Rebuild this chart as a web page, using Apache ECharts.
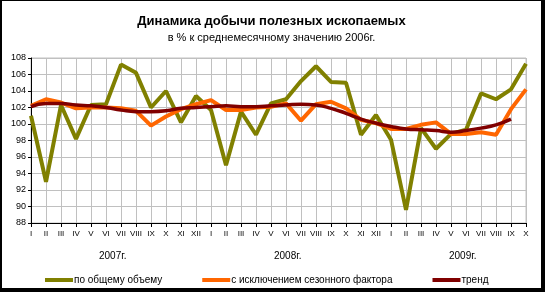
<!DOCTYPE html>
<html>
<head>
<meta charset="utf-8">
<script src="https://cdn.jsdelivr.net/npm/echarts@6/dist/echarts.min.js"></script>
<style>
html,body{margin:0;padding:0;background:#000;}
#frame{position:absolute;left:0;top:0;width:545px;height:292px;background:#000;}
#chart{position:absolute;left:2px;top:1px;width:539px;height:287px;background:#fff;}
</style>
</head>
<body>
<div id="frame"><div id="chart"></div></div>
<script>
// месяцы 2007 I..XII, 2008 I..XII, 2009 I..X
var months = ['I','II','III','IV','V','VI','VII','VIII','IX','X','XI','XII',
	'I','II','III','IV','V','VI','VII','VIII','IX','X','XI','XII',
	'I','II','III','IV','V','VI','VII','VIII','IX','X'];
var years = ['2007г.','2008г.','2009г.'];
var yTicks = [88,108,2];

var totalVol = [101.0,93.0,102.3,98.2,102.3,102.4,107.2,106.2,102.0,104.0,100.2,103.4,
	101.7,95.0,101.5,98.7,102.5,103.0,105.2,107.0,105.1,105.0,98.7,101.1,
	98.1,89.6,99.5,97.0,98.8,99.3,103.7,103.0,104.2,107.3];
var seasonAdj = [102.2,103.0,102.6,101.9,102.0,102.0,101.9,101.6,99.8,100.9,101.8,102.4,
	102.9,101.7,101.7,102.0,102.1,102.5,100.4,102.4,102.7,101.9,100.5,100.1,
	99.4,99.4,99.9,100.2,98.8,98.8,99.0,98.7,101.8,104.2];
var trend = [102.1,102.5,102.5,102.3,102.2,102.0,101.7,101.5,101.5,101.6,101.9,102.0,
	102.1,102.2,102.1,102.1,102.2,102.3,102.4,102.3,101.9,101.3,100.6,100.1,
	99.7,99.4,99.3,99.2,99.0,99.2,99.5,99.9,100.6,null];

var chart = echarts.init(document.getElementById('chart'));
var ff = '"Liberation Sans", Arial, sans-serif';
var option = {
	animation:false,
	backgroundColor:'#fff',
	title:{
		text:'Динамика добычи полезных ископаемых',
		subtext:'в % к среднемесячному значению 2006г.',
		left:'center',
		top:9,
		itemGap:4,
		textStyle:{fontFamily:ff,fontSize:13,fontWeight:'bold',color:'#000'},
		subtextStyle:{fontFamily:ff,fontSize:11,color:'#000'}
	},
	grid:{left:29,right:15,top:57,bottom:65},
	legend:{
		left:38,
		top:269,
		itemWidth:28,
		itemHeight:4,
		itemGap:40,
		icon:'rect',
		textStyle:{fontFamily:ff,fontSize:10,color:'#000',padding:[0,0,0,-4]},
		data:['по общему объему','с исключением сезонного фактора','тренд']
	},
	xAxis:{
		type:'category',
		boundaryGap:false,
		data:months,
		axisLine:{lineStyle:{color:'#000',width:1}},
		axisTick:{show:true,interval:0,length:4,lineStyle:{color:'#000'}},
		axisLabel:{interval:0,fontFamily:ff,fontSize:8,color:'#000',margin:7},
		splitLine:{show:true,interval:0,lineStyle:{color:'#c0c0c0',width:1}}
	},
	yAxis:{
		type:'value',
		min:yTicks[0],
		max:yTicks[1],
		interval:yTicks[2],
		axisLine:{show:true,lineStyle:{color:'#000'}},
		axisTick:{show:true,length:3,lineStyle:{color:'#000'}},
		axisLabel:{fontFamily:ff,fontSize:9,color:'#000',margin:5},
		splitLine:{lineStyle:{color:'#c0c0c0',width:1}}
	},
	graphic:[
		{type:'rect',shape:{x:29,y:57,width:495,height:165},style:{fill:'none',stroke:'#c0c0c0'},silent:true,z:-1},
		{type:'text',left:97,top:250,style:{text:years[0],font:'10px '+ff,fill:'#000'}},
		{type:'text',left:272,top:250,style:{text:years[1],font:'10px '+ff,fill:'#000'}},
		{type:'text',left:447,top:250,style:{text:years[2],font:'10px '+ff,fill:'#000'}}
	],
	series:[
		{
			name:'по общему объему',
			type:'line',
			data:totalVol,
			symbol:'none',
			itemStyle:{color:'#808000'},
			lineStyle:{color:'#808000',width:4},
			z:2
		},
		{
			name:'с исключением сезонного фактора',
			type:'line',
			data:seasonAdj,
			symbol:'none',
			itemStyle:{color:'#ff6600'},
			lineStyle:{color:'#ff6600',width:4},
			z:3
		},
		{
			name:'тренд',
			type:'line',
			data:trend,
			symbol:'none',
			smooth:true,
			itemStyle:{color:'#800000'},
			lineStyle:{color:'#800000',width:3.5},
			z:4
		}
	]
};
chart.setOption(option);
</script>
</body>
</html>
